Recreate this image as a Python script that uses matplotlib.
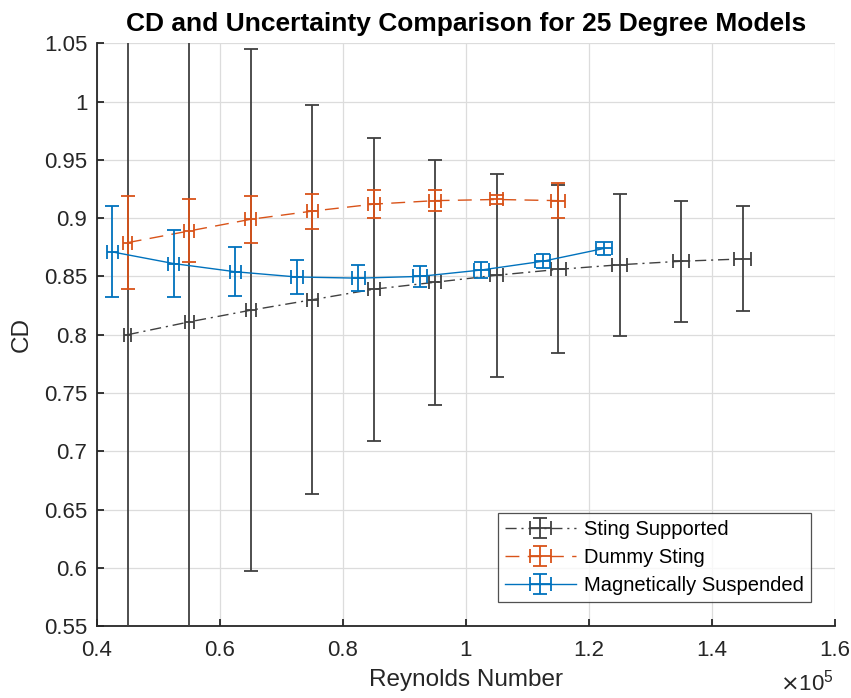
import matplotlib
matplotlib.use("Agg")
import matplotlib.pyplot as plt
from matplotlib.ticker import FuncFormatter

plt.rcParams['font.family'] = ['Liberation Sans', 'DejaVu Sans']

# Reynolds numbers are in units of 1e5
re_sting = [0.45, 0.55, 0.65, 0.75, 0.85, 0.95, 1.05, 1.15, 1.25, 1.35, 1.45]
cd_sting = [0.800, 0.811, 0.821, 0.830, 0.839, 0.845, 0.851, 0.856, 0.860, 0.863, 0.865]
cd_err_sting = [0.46, 0.33, 0.224, 0.167, 0.130, 0.105, 0.087, 0.072, 0.061, 0.052, 0.045]
re_err_sting = [0.006, 0.007, 0.008, 0.009, 0.010, 0.010, 0.011, 0.012, 0.012, 0.013, 0.014]

re_dummy = [0.45, 0.55, 0.65, 0.75, 0.85, 0.95, 1.05, 1.15]
cd_dummy = [0.879, 0.889, 0.899, 0.906, 0.912, 0.915, 0.916, 0.915]
cd_err_dummy = [0.040, 0.027, 0.020, 0.015, 0.012, 0.009, 0.0035, 0.015]
re_err_dummy = [0.0076, 0.008, 0.0085, 0.009, 0.0095, 0.010, 0.0105, 0.0114]

re_mag = [0.425, 0.525, 0.625, 0.725, 0.825, 0.925, 1.025, 1.125, 1.225]
cd_mag = [0.871, 0.861, 0.854, 0.8495, 0.8485, 0.850, 0.8555, 0.863, 0.874]
cd_err_mag = [0.039, 0.029, 0.021, 0.0145, 0.011, 0.009, 0.007, 0.006, 0.0055]
re_err_mag = [0.0085, 0.009, 0.0095, 0.010, 0.0105, 0.011, 0.012, 0.0125, 0.013]

fig = plt.figure(figsize=(8.51, 6.98), dpi=100)
ax = fig.add_axes([0.114, 0.103, 0.867, 0.835])

cap = 4.7
ax.errorbar(re_sting, cd_sting, yerr=cd_err_sting, xerr=re_err_sting,
            color='#404040', ls=(0, (8, 3.5, 1.5, 3.5)), lw=1.0, elinewidth=1.3,
            capsize=cap, capthick=1.3, label='Sting Supported', zorder=3)
ax.errorbar(re_dummy, cd_dummy, yerr=cd_err_dummy, xerr=re_err_dummy,
            color='#D95319', ls=(0, (10, 6)), lw=1.0, elinewidth=1.3,
            capsize=cap, capthick=1.3, label='Dummy Sting', zorder=4)
ax.errorbar(re_mag, cd_mag, yerr=cd_err_mag, xerr=re_err_mag,
            color='#0072BD', ls='-', lw=1.0, elinewidth=1.3,
            capsize=cap, capthick=1.3, label='Magnetically Suspended', zorder=5)

ax.set_xlim(0.4, 1.6)
ax.set_ylim(0.55, 1.05)
ax.set_xticks([0.4, 0.6, 0.8, 1.0, 1.2, 1.4, 1.6])
ax.set_yticks([0.55 + 0.05 * i for i in range(11)])
ax.xaxis.set_major_formatter(FuncFormatter(lambda v, p: f"{v:g}"))
ax.yaxis.set_major_formatter(FuncFormatter(lambda v, p: f"{round(v, 2):g}"))

ax.grid(True, color='#dcdcdc', lw=0.9)
ax.set_axisbelow(True)
for s in ['top', 'right']:
    ax.spines[s].set_visible(False)
for s in ['left', 'bottom']:
    ax.spines[s].set_linewidth(1.3)
    ax.spines[s].set_color('#262626')
ax.tick_params(direction='in', length=5, width=1.3, colors='#262626',
               labelsize=16)
ax.tick_params(axis='x', pad=10)
ax.tick_params(axis='y', pad=7)

ax.set_title('CD and Uncertainty Comparison for 25 Degree Models',
             fontsize=19, fontweight='bold', color='black', pad=9)
ax.set_xlabel('Reynolds Number', fontsize=17.5, color='#262626', labelpad=6)
ax.set_ylabel('CD', fontsize=17.5, color='#262626', labelpad=8)
fig.text(0.979, 0.003, r'$\times\mathregular{10^5}$', ha='right', va='bottom',
         fontsize=16, color='#262626')

leg = ax.legend(loc='lower right', fontsize=14.5, frameon=True, fancybox=False,
                edgecolor='#262626', borderaxespad=1.2, handlelength=3.5,
                handletextpad=0.4, labelspacing=0.45, borderpad=0.35)
leg.get_frame().set_linewidth(0.9)

fig.savefig('out.png', dpi=100)
